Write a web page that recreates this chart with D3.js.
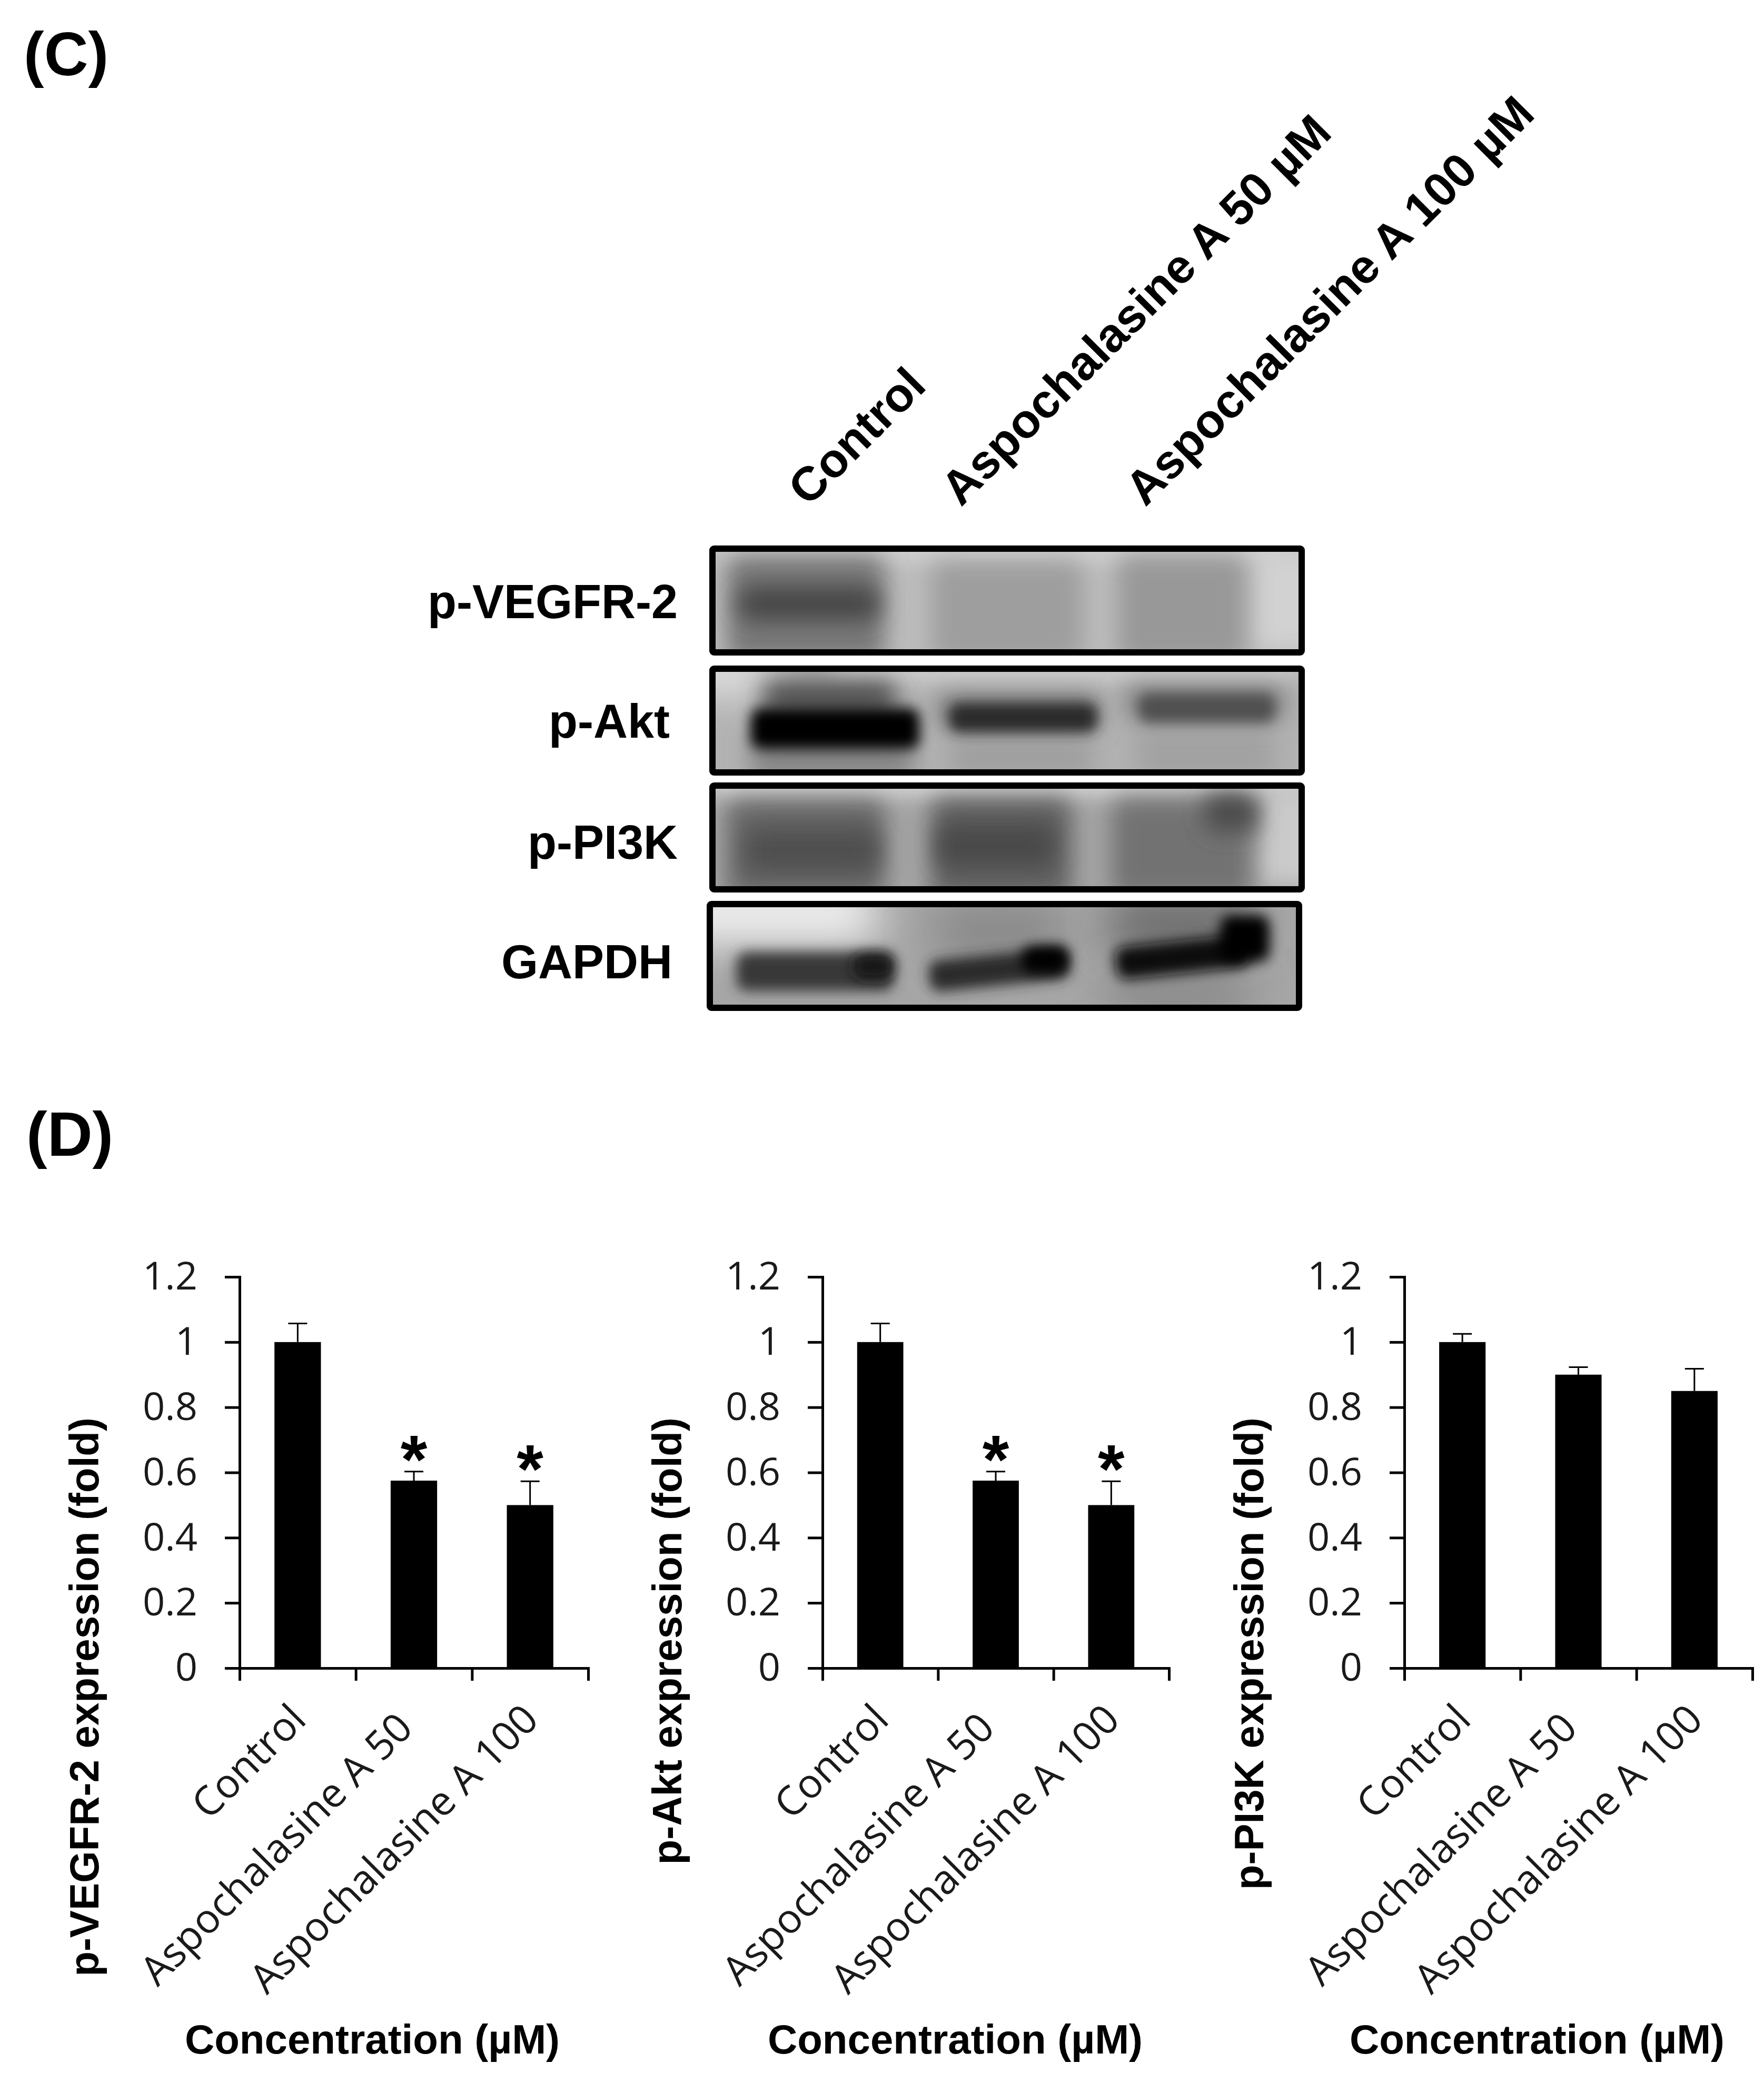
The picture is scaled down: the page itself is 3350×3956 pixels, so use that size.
<!DOCTYPE html>
<html>
<head>
<meta charset="utf-8">
<script src="https://cdn.jsdelivr.net/npm/d3@7/dist/d3.min.js"></script>
<style>
  html, body { margin: 0; padding: 0; background: #fff; }
  text { font-family: "Liberation Sans", Arial, sans-serif; fill: #000; }
  .bold { font-weight: bold; }
  .tick text, .cat { font-family: "Open Sans", sans-serif; fill: #1a1a1a; }
</style>
</head>
<body>
<svg id="fig" width="3350" height="3956"></svg>
<script>
// Bar chart data
const categories = ["Control", "Aspochalasine A 50", "Aspochalasine A 100"];
const yTicks = [0, 0.2, 0.4, 0.6, 0.8, 1, 1.2];
const vegfrValues = [1, 0.575, 0.5];
const vegfrTops = [1.057, 0.603, 0.573];
const aktValues = [1, 0.575, 0.5];
const aktTops = [1.057, 0.603, 0.573];
const pi3kValues = [1, 0.9, 0.85];
const pi3kTops = [1.025, 0.923, 0.918];
const vegfrStars = [false, true, true];
const aktStars = [false, true, true];
const pi3kStars = [false, false, false];

// Western blot labels
const laneLabels = ["Control", "Aspochalasine A 50 µM", "Aspochalasine A 100 µM"];
const blotNames = ["p-VEGFR-2", "p-Akt", "p-PI3K", "GAPDH"];

const svg = d3.select("#fig");
const defs = svg.append("defs");

// blur filters for the blot bands
[["soft", 12], ["softer", 22], ["wash", 42]].forEach(([id, sd]) => {
    defs.append("filter").attr("id", id)
        .attr("x", "-100%").attr("y", "-300%").attr("width", "300%").attr("height", "700%")
        .append("feGaussianBlur").attr("stdDeviation", sd);
});

// Panel letters
svg.append("text").attr("class", "bold").attr("x", 45).attr("y", 143).style("font-size", "116px").text("(C)");
svg.append("text").attr("class", "bold").attr("x", 50).attr("y", 2195).style("font-size", "119px").text("(D)");

// ---- Panel C, blots ----
// each band: x0, x1, y0, y1 in percent of the blot, grey level, blur, tilt in degrees
const blots = [
    { x: 1347, y: 1036, labelX: 1287, labelY: 1143, bg: "#bcbcbc", bands: [
        [0, 100, -14, 6, "#d8d8d8", "softer"],
        [92, 106, 0, 100, "#d2d2d2", "softer"],
        [2, 29, 4, 112, "#787878", "softer"],
        [4, 28, 36, 70, "#444444", "softer"],
        [37, 63, 10, 112, "#9e9e9e", "softer"],
        [69, 91, 4, 112, "#989898", "softer"]
    ]},
    { x: 1347, y: 1264, labelX: 1272, labelY: 1370, bg: "#b2b2b2", bands: [
        [-8, 10, -14, 14, "#ffffff", "wash"],
        [20, 100, -12, 6, "#dcdcdc", "softer"],
        [8, 31, 10, 42, "#4c4c4c", "softer"],
        [6, 34, 60, 110, "#848484", "softer"],
        [40, 65, 66, 110, "#a0a0a0", "softer"],
        [72, 96, 58, 110, "#a2a2a2", "softer"],
        [38, 66, 22, 58, "#808080", "softer"],
        [70, 98, 12, 50, "#888888", "softer"],
        [6, 35, 37, 79, "#000000", "soft"],
        [40, 65.5, 32, 62, "#2a2a2a", "soft"],
        [72.5, 96, 22, 52, "#505050", "soft"]
    ]},
    { x: 1347, y: 1486, labelX: 1287, labelY: 1600, bg: "#a4a4a4", bands: [
        [-2, 102, -16, 4, "#e8e8e8", "softer"],
        [93, 106, 0, 100, "#cacaca", "softer"],
        [2, 29, 12, 112, "#686868", "softer"],
        [37, 61, 10, 112, "#606060", "softer"],
        [68, 92, 10, 112, "#727272", "softer"],
        [84, 93, 6, 44, "#4c4c4c", "softer"],
        [5, 28, 40, 86, "#505050", "softer"],
        [38, 58, 36, 80, "#4a4a4a", "softer"]
    ]},
    { x: 1342, y: 1711, labelX: 1277, labelY: 1827, bg: "#a6a6a6", bands: [
        [-8, 28, -24, 36, "#f4f4f4", "wash"],
        [38, 60, -6, 54, "#888888", "wash"],
        [68, 92, -10, 44, "#686868", "wash"],
        [68, 92, 70, 112, "#848484", "wash"],
        [4, 31, 46, 86, "#383838", "soft", 0],
        [24, 31, 48, 74, "#141414", "soft", 0],
        [37, 61, 48, 80, "#2a2a2a", "soft", -6],
        [53, 61, 40, 68, "#060606", "soft", 0],
        [69, 92, 34, 68, "#0e0e0e", "soft", -6],
        [87, 95.5, 8, 56, "#000000", "soft", 0]
    ]}
];

const blotW = 1131, blotH = 209, blotBorder = 12;

blots.forEach((b, i) => {
    const innerW = blotW - 2 * blotBorder, innerH = blotH - 2 * blotBorder;
    const bx = d3.scaleLinear().domain([0, 100]).range([0, innerW]);
    const by = d3.scaleLinear().domain([0, 100]).range([0, innerH]);

    const g = svg.append("g").attr("transform", `translate(${b.x + blotBorder},${b.y + blotBorder})`);
    defs.append("clipPath").attr("id", "blot" + i)
        .append("rect").attr("width", innerW).attr("height", innerH);

    const inner = g.append("g").attr("clip-path", `url(#blot${i})`);
    inner.append("rect").attr("width", innerW).attr("height", innerH).attr("fill", b.bg);
    inner.selectAll(".band")
        .data(b.bands)
        .enter()
        .append("rect")
        .attr("class", "band")
        .attr("x", d => bx(d[0]))
        .attr("y", d => by(d[2]))
        .attr("width", d => bx(d[1]) - bx(d[0]))
        .attr("height", d => by(d[3]) - by(d[2]))
        .attr("rx", 20)
        .attr("fill", d => d[4])
        .attr("filter", d => `url(#${d[5]})`)
        .attr("transform", d => `rotate(${d[6] || 0},${bx((d[0] + d[1]) / 2)},${by((d[2] + d[3]) / 2)})`);

    // thick frame
    svg.append("rect")
        .attr("x", b.x + blotBorder / 2).attr("y", b.y + blotBorder / 2)
        .attr("width", blotW - blotBorder).attr("height", blotH - blotBorder)
        .attr("rx", 3)
        .attr("fill", "none").attr("stroke", "#000").attr("stroke-width", blotBorder);

    svg.append("text").attr("class", "bold")
        .attr("x", b.labelX).attr("y", b.labelY)
        .attr("text-anchor", "end").attr("dominant-baseline", "central")
        .style("font-size", "90px")
        .text(blotNames[i]);
});

// lane headers at 45 degrees
const laneX = d3.scalePoint().domain(laneLabels).range([1539, 2175]);
const laneOffsets = [-4, -32, 0];
svg.selectAll(".lane")
    .data(laneLabels)
    .enter()
    .append("text")
    .attr("class", "lane bold")
    .attr("transform", (d, i) => `translate(${laneX(d) + laneOffsets[i]},964) rotate(-45)`)
    .style("font-size", "90.5px")
    .text(d => d);

// ---- Panel D, bar charts ----
function barPanel(axisX, axisRight, yLabel, values, tops, stars) {
    const top = 2425, zero = 3168;

    const x = d3.scaleBand()
        .domain(categories)
        .range([axisX, axisRight])
        .paddingInner(0.6)
        .paddingOuter(0.3);

    // ticks sit between the categories
    const xEdges = d3.scaleLinear().domain([0, categories.length]).range([axisX, axisRight]);

    const y = d3.scaleLinear().domain([0, 1.2]).range([zero, top]);

    const rows = categories.map((c, i) => ({ c, v: values[i], t: tops[i], star: stars[i] }));

    // Bars
    svg.selectAll(null)
        .data(rows)
        .enter()
        .append("rect")
        .attr("x", d => x(d.c))
        .attr("width", x.bandwidth())
        .attr("y", d => y(d.v))
        .attr("height", d => y(0) - y(d.v))
        .attr("fill", "#000");

    // Error bars
    const err = svg.selectAll(null).data(rows).enter().append("g");
    err.append("line")
        .attr("x1", d => x(d.c) + x.bandwidth() / 2).attr("x2", d => x(d.c) + x.bandwidth() / 2)
        .attr("y1", d => y(d.v)).attr("y2", d => y(d.t))
        .attr("stroke", "#000").attr("stroke-width", 3);
    err.append("line")
        .attr("x1", d => x(d.c) + x.bandwidth() / 2 - 18).attr("x2", d => x(d.c) + x.bandwidth() / 2 + 18)
        .attr("y1", d => y(d.t)).attr("y2", d => y(d.t))
        .attr("stroke", "#000").attr("stroke-width", 3);

    // Y axis
    const yAxis = svg.append("g")
        .attr("transform", `translate(${axisX},0)`)
        .call(d3.axisLeft(y).tickValues(yTicks).tickSize(28).tickPadding(52).tickFormat(d => String(d)));
    yAxis.selectAll("text").style("font-size", "74px");

    // X axis, no labels on it
    const xAxis = svg.append("g")
        .attr("transform", `translate(0,${zero})`)
        .call(d3.axisBottom(xEdges).tickValues(d3.range(categories.length + 1)).tickSize(24).tickFormat(""));

    [yAxis, xAxis].forEach(a => {
        a.selectAll("line").attr("stroke", "#000").attr("stroke-width", 5);
        a.selectAll(".domain").attr("stroke", "#000").attr("stroke-width", 5);
    });

    // Category labels
    const catShift = [20, 2, 20];
    const catDrop = [102, 118, 102];
    svg.selectAll(null)
        .data(categories)
        .enter()
        .append("text")
        .attr("class", "cat")
        .attr("text-anchor", "end")
        .attr("transform", (d, i) => `translate(${x(d) + x.bandwidth() / 2 + catShift[i]},${zero + catDrop[i]}) rotate(-45)`)
        .style("font-size", "77px")
        .text(d => d);

    // Significance stars
    svg.selectAll(null)
        .data(rows.filter(d => d.star))
        .enter()
        .append("text")
        .attr("class", "bold")
        .attr("text-anchor", "middle")
        .attr("x", d => x(d.c) + x.bandwidth() / 2)
        .attr("y", d => y(d.t) + 22)
        .style("font-size", "130px")
        .text("*");

    // Axis titles
    svg.append("text").attr("class", "bold")
        .attr("text-anchor", "end")
        .attr("transform", `translate(${axisX - 268},2692) rotate(-90)`)
        .style("font-size", "78px")
        .text(yLabel);

    svg.append("text").attr("class", "bold")
        .attr("text-anchor", "middle")
        .attr("x", axisX + 252)
        .attr("y", 3900)
        .style("font-size", "78px")
        .text("Concentration (µM)");
}

barPanel(455, 1117, "p-VEGFR-2 expression (fold)", vegfrValues, vegfrTops, vegfrStars);
barPanel(1562, 2220, "p-Akt expression (fold)", aktValues, aktTops, aktStars);
barPanel(2667, 3328, "p-PI3K expression (fold)", pi3kValues, pi3kTops, pi3kStars);
</script>
</body>
</html>
